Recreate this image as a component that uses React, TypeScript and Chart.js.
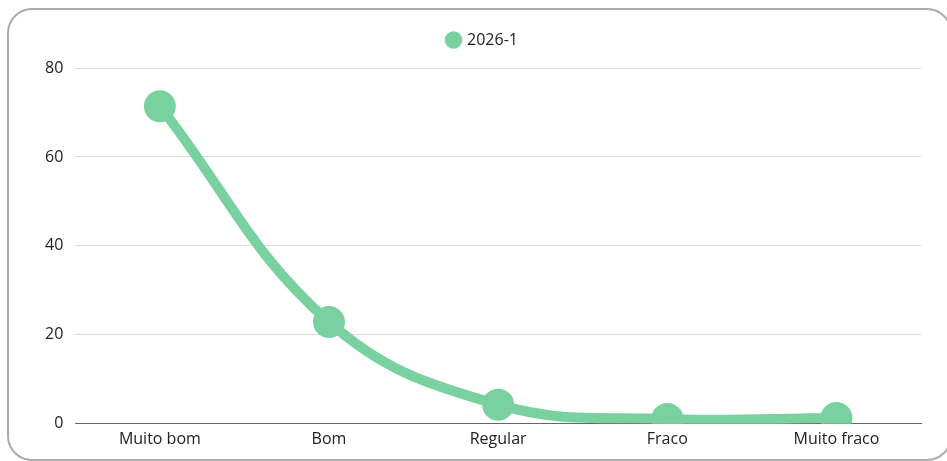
import React, { useEffect, useRef } from "react";
import { Chart, registerables } from "chart.js";

Chart.register(...registerables);

const categories = ["Muito bom", "Bom", "Regular", "Fraco", "Muito fraco"];
const seriesLabel = "2026-1";
const seriesValues = [71.4, 22.9, 4.3, 1.1, 1.3];
const yTicks = [0, 20, 40, 60, 80];

const GREEN = "rgb(120, 209, 159)";
const FONT = "'Open Sans', 'Noto Sans', sans-serif";

const legendSpacer = {
  id: "legendSpacer",
  beforeInit(chart: any) {
    const origFit = chart.legend.fit;
    chart.legend.fit = function fit() {
      origFit.call(this);
      this.height += 10;
    };
  },
  afterLayout(chart: any) {
    if (chart.legend) {
      chart.legend.left += 6;
      chart.legend.right += 6;
    }
  },
};

export default function App() {
  const ref = useRef<HTMLCanvasElement | null>(null);

  useEffect(() => {
    if (!ref.current) return;
    const chart = new Chart(ref.current, {
      type: "line",
      data: {
        labels: categories,
        datasets: [
          {
            label: seriesLabel,
            data: seriesValues,
            borderColor: GREEN,
            backgroundColor: GREEN,
            borderWidth: 10,
            pointRadius: 15,
            pointBorderWidth: 2,
            pointBackgroundColor: GREEN,
            pointBorderColor: GREEN,
            tension: 0.4,
            fill: false,
          },
        ],
      },
      plugins: [legendSpacer],
      options: {
        responsive: true,
        maintainAspectRatio: false,
        animation: false,
        layout: { padding: { left: 24, right: 29, top: 12, bottom: 4 } },
        plugins: {
          legend: {
            display: true,
            position: "top",
            labels: {
              usePointStyle: true,
              pointStyle: "circle",
              boxWidth: 11,
              boxHeight: 11,
              padding: 10,
              color: "#222",
              font: { family: FONT, size: 16 },
            },
          },
          tooltip: { enabled: false },
        },
        scales: {
          x: {
            offset: true,
            grid: { display: false, drawTicks: false },
            border: { display: true, color: "#666", width: 1 },
            ticks: {
              color: "#222",
              padding: 6,
              font: { family: FONT, size: 16 },
            },
          },
          y: {
            min: 0,
            max: 80,
            afterBuildTicks: (axis: any) => {
              axis.ticks = yTicks.map((v) => ({ value: v }));
            },
            grid: { color: "#dcdcdc", drawTicks: false },
            border: { display: false },
            ticks: {
              color: "#222",
              padding: 12,
              font: { family: FONT, size: 16 },
            },
          },
        },
      },
    });
    return () => chart.destroy();
  }, []);

  return (
    <div
      style={{
        position: "fixed",
        left: 0,
        top: 0,
        width: 947,
        height: 461,
        overflow: "hidden",
        background: "#fff",
      }}
    >
      <div
        style={{
          position: "absolute",
          left: 7,
          top: 8,
          width: 945,
          height: 453,
          border: "2px solid #ababab",
          borderRadius: 25,
          boxSizing: "border-box",
          overflow: "hidden",
        }}
      >
        <div style={{ position: "relative", width: "100%", height: "100%" }}>
          <canvas ref={ref} />
        </div>
      </div>
    </div>
  );
}
